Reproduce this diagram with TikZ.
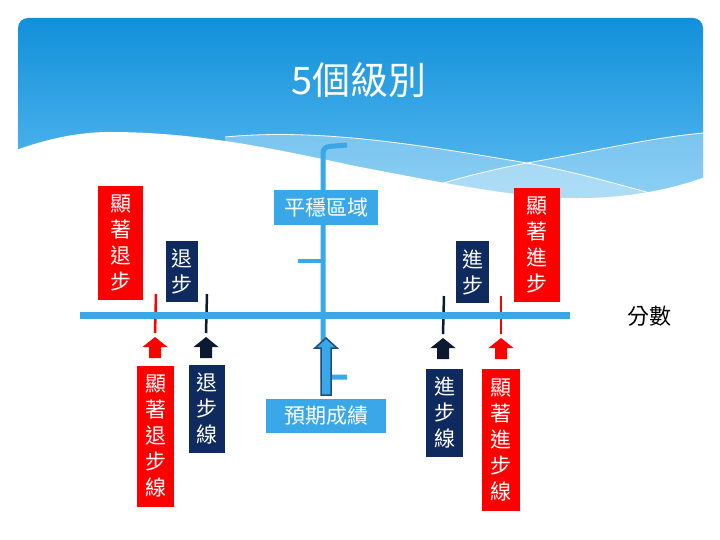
\documentclass[tikz,border=0pt]{standalone}
\usepackage{fontspec}
\setmainfont{Noto Sans CJK TC}
\definecolor{hdrtop}{HTML}{1190DA}
\definecolor{hdrbot}{HTML}{62BFF2}
\definecolor{lblue}{HTML}{3AA8E8}
\definecolor{navybox}{HTML}{0F2A5F}
\definecolor{navyline}{HTML}{0B1A30}
\definecolor{redbox}{HTML}{FF0000}
\definecolor{arrowedge}{HTML}{1F4E79}
\tikzset{
  vbox/.style={inner sep=0pt, align=center, text=white, font=\fontsize{21}{26}\selectfont},
  redv/.style={vbox, fill=redbox},
  navyv/.style={vbox, fill=navybox},
  hbox/.style={inner sep=0pt, text=white, fill=lblue, font=\fontsize{21}{26}\selectfont},
  tickline/.style={line width=2.5pt},
  bracepath/.style={draw=lblue, line width=5pt},
  axisline/.style={draw=lblue, line width=7pt},
  bigarrow/.style={fill=lblue, draw=arrowedge, line width=1.5pt, line join=miter},
}
\newcommand\blockup[3]{%
  \fill[#3] (#1-12.5,#2+10) -- (#1,#2) -- (#1+12.5,#2+10) -- (#1+6,#2+10) -- (#1+6,#2+21) -- (#1-6,#2+21) -- (#1-6,#2+10) -- cycle;}
\begin{document}
\begin{tikzpicture}[x=1pt,y=-1pt]
\useasboundingbox (0,0) rectangle (720,540);
\fill[white] (0,0) rectangle (720,540);
% header
\shade[top color=hdrtop, bottom color=hdrbot, rounded corners=10pt] (18,18) rectangle (703,215);
% light bands
\fill[white, opacity=0.3] (225,137) .. controls (320,128) and (420,145) .. (527,163) .. controls (580,173) and (620,185) .. (650,193) -- (650,215) -- (225,215) -- cycle;
\fill[white, opacity=0.3] (440,184) .. controls (470,175) and (500,168) .. (527,163) .. controls (600,150) and (650,138) .. (703,133) -- (703,215) -- (440,215) -- cycle;
\draw[white, line width=0.8pt] (225,137) .. controls (320,128) and (420,145) .. (527,163) .. controls (580,173) and (620,185) .. (650,193);
\draw[white, line width=0.8pt] (440,184) .. controls (470,175) and (500,168) .. (527,163) .. controls (600,150) and (650,138) .. (703,133);
% white wave
\fill[white] (16,150) .. controls (50,138) and (80,132) .. (110,132) .. controls (200,132) and (280,150) .. (360,167) .. controls (430,180) and (500,195) .. (560,198) .. controls (620,200) and (670,190) .. (705,177) -- (705,220) -- (16,220) -- cycle;
% title
\node[text=white, font=\fontsize{38}{40}\selectfont] (title) at (359,80) {5個級別};
% brace
\draw[bracepath] (347,145) [rounded corners=6pt] -- (323,147) [sharp corners] -- (323,377) -- (347,377);
\draw[bracepath, line width=4.5pt] (323,261) -- (298,261);
% tick lines
\coordinate (rl1) at (156,294); \coordinate (ra1) at (155,337);
\coordinate (nl1) at (207,294); \coordinate (na1) at (206,337);
\coordinate (nl2) at (444,296); \coordinate (na2) at (443,338);
\coordinate (rl2) at (501,296); \coordinate (ra2) at (501,338);
\draw[tickline, redbox] (rl1) -- (ra1 |- 0,333);
\draw[tickline, navyline] (nl1) -- (na1 |- 0,333);
\draw[tickline, navyline] (nl2) -- (na2 |- 0,334);
\draw[tickline, redbox] (rl2) -- (ra2 |- 0,334);
% axis
\draw[axisline] (80,315) -- (570,315);
\node[font=\fontsize{22}{24}\selectfont] (score) at (649,316) {分數};
% small arrows
\blockup{155}{337}{redbox}
\blockup{206}{337}{navyline}
\blockup{443}{338}{navyline}
\blockup{501}{338}{redbox}
% big arrow
\filldraw[bigarrow] (326,338) -- (337,348) -- (331,348) -- (331,395) -- (321,395) -- (321,348) -- (315,348) -- cycle;
% boxes
\node[redv, minimum width=45pt, minimum height=114pt] (sigback) at (120.5,243) {顯\\著\\退\\步};
\node[navyv, minimum width=32pt, minimum height=61pt] (back) at (182,271.5) {退\\步};
\node[hbox, minimum width=104pt, minimum height=35pt] (stable) at (326,207.5) {平穩區域};
\node[navyv, minimum width=33pt, minimum height=62pt] (prog) at (472.5,272) {進\\步};
\node[redv, minimum width=46pt, minimum height=114pt] (sigprog) at (537,245) {顯\\著\\進\\步};
\node[redv, minimum width=37pt, minimum height=141pt] (sigbackline) at (155.5,436.5) {顯\\著\\退\\步\\線};
\node[navyv, minimum width=36pt, minimum height=88pt] (backline) at (207,409) {退\\步\\線};
\node[hbox, minimum width=120pt, minimum height=34pt] (expect) at (326,416) {預期成績};
\node[navyv, minimum width=37pt, minimum height=88pt] (progline) at (444.5,413) {進\\步\\線};
\node[redv, minimum width=38pt, minimum height=142pt] (sigprogline) at (501,440) {顯\\著\\進\\步\\線};
\end{tikzpicture}
\end{document}
